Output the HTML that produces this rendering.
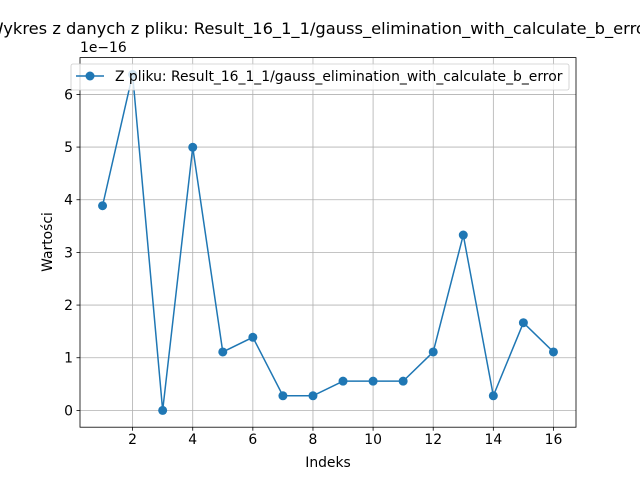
<!DOCTYPE html>
<html><head><meta charset="utf-8"><style>
body{margin:0;background:#fff;width:640px;height:480px;overflow:hidden}
text{font-family:"DejaVu Sans","Liberation Sans",sans-serif;fill:#000}
</style></head><body>
<svg id="chart" width="640" height="480" viewBox="0 0 640 480">
<rect x="0" y="0" width="640" height="480" fill="#fff"/>
<text x="320" y="34" font-size="16.3" text-anchor="middle">Wykres z danych z pliku: Result_16_1_1/gauss_elimination_with_calculate_b_error</text>
<g id="grid"></g>
<g id="ticks"></g>
<g id="series"></g>
<rect x="80" y="57.6" width="496" height="369.6" fill="none" stroke="#000" stroke-width="0.8"/>
<text x="80" y="52" font-size="13.9">1e−16</text>
<text x="328" y="467" font-size="13.9" text-anchor="middle">Indeks</text>
<text x="52" y="242" font-size="13.9" text-anchor="middle" transform="rotate(-90 52 242)">Wartości</text>
<g>
<rect x="71" y="64" width="498" height="26" rx="2" fill="#fff" fill-opacity="0.8" stroke="#ccc" stroke-width="0.8"/>
<line x1="76" y1="76" x2="104" y2="76" stroke="#1f77b4" stroke-width="1.5"/>
<circle cx="90" cy="76" r="4.5" fill="#1f77b4"/>
<text x="115" y="81" font-size="13.9">Z pliku: Result_16_1_1/gauss_elimination_with_calculate_b_error</text>
</g>
</svg>
<script>
const xValues=[1,2,3,4,5,6,7,8,9,10,11,12,13,14,15,16];
const yValues=[3.886,6.38,0,4.996,1.11,1.388,0.278,0.278,0.555,0.555,0.555,1.11,3.33,0.278,1.665,1.11];
const xTicks=[2,4,6,8,10,12,14,16];
const yTicks=[0,1,2,3,4,5,6];
const NS="http://www.w3.org/2000/svg";
const L=80,R=576,T=57.6,B=427.2;
const xmin=0.25,xmax=16.75;
const ymax=Math.max(...yValues),ymin=Math.min(...yValues);
const y0=ymin-(ymax-ymin)*0.05,y1=ymax+(ymax-ymin)*0.05;
const sx=v=>L+(v-xmin)/(xmax-xmin)*(R-L);
const sy=v=>B-(v-y0)/(y1-y0)*(B-T);
function mk(tag,attrs,parent){const e=document.createElementNS(NS,tag);for(const k in attrs)e.setAttribute(k,attrs[k]);parent.appendChild(e);return e;}
const grid=document.getElementById('grid'),ticks=document.getElementById('ticks'),series=document.getElementById('series');
xTicks.forEach(t=>{const x=sx(t);
const g=mk('line',{x1:x,x2:x,y1:T,y2:B,stroke:'#b0b0b0','stroke-width':0.8},grid);


mk('line',{x1:x,x2:x,y1:B,y2:B+3.5,stroke:'#000','stroke-width':0.8},ticks);
const tx=mk('text',{x:x,y:B+17,'font-size':13.9,'text-anchor':'middle'},ticks);tx.textContent=t;

});
yTicks.forEach(t=>{const y=sy(t);
const g=mk('line',{x1:L,x2:R,y1:y,y2:y,stroke:'#b0b0b0','stroke-width':0.8},grid);


mk('line',{x1:L-3.5,x2:L,y1:y,y2:y,stroke:'#000','stroke-width':0.8},ticks);
const tx=mk('text',{x:L-7,y:y+5,'font-size':13.9,'text-anchor':'end'},ticks);tx.textContent=t;

});
const pts=xValues.map((x,i)=>sx(x)+','+sy(yValues[i])).join(' ');
const pl=mk('polyline',{points:pts,fill:'none',stroke:'#1f77b4','stroke-width':1.5},series);


xValues.forEach((x,i)=>{const c=mk('circle',{cx:sx(x),cy:sy(yValues[i]),r:4.5,fill:'#1f77b4'},series);

});
</script>
</body></html>
